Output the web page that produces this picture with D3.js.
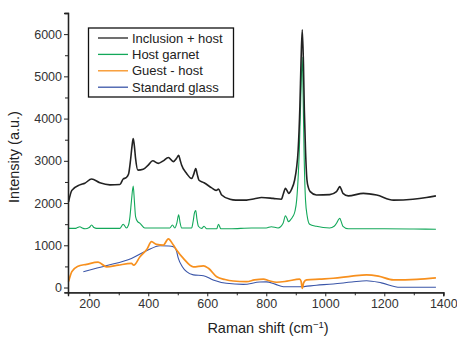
<!DOCTYPE html>
<html><head><meta charset="utf-8">
<script src="https://cdn.jsdelivr.net/npm/d3@7"></script>
<style>body{margin:0;background:#fff}svg{font-family:"Liberation Sans",Arial,sans-serif}</style>
</head><body><svg id="c" width="457" height="339"></svg>
<script>
const seriesNames = ["Inclusion + host","Host garnet","Guest - host","Standard glass"];
const seriesColors = ["#222222","#13a85a","#f7901e","#3a55a8"];
const xTicks = [200,400,600,800,1000,1200,1400];
const yTicks = [0,1000,2000,3000,4000,5000,6000];

const inclusionHost = [[130,2030],[141,2300],[168,2430],[185,2470],[208,2570],[236,2480],[270,2430],[304,2440],[315,2570],[325,2600],[333,2680],[340,3020],[345,3350],[349,3530],[353,3350],[357,3060],[365,2780],[383,2800],[400,2900],[415,3000],[434,2940],[451,3000],[468,3080],[485,2980],[496,3060],[503,3130],[508,3020],[513,2900],[530,2700],[547,2580],[554,2680],[561,2820],[566,2680],[572,2540],[589,2480],[615,2360],[630,2300],[638,2330],[649,2190],[677,2090],[697,2070],[733,2070],[760,2100],[784,2130],[823,2110],[851,2090],[858,2220],[865,2350],[870,2300],[876,2230],[886,2330],[896,2540],[903,2850],[908,3250],[914,4300],[918,5400],[922,6100],[926,5300],[929,4200],[933,3250],[938,2540],[943,2360],[949,2270],[970,2190],[1015,2200],[1038,2270],[1044,2340],[1049,2390],[1054,2330],[1060,2230],[1078,2170],[1129,2230],[1174,2190],[1231,2070],[1297,2090],[1343,2130],[1375,2170]];

const hostGarnet = [[130,1400],[152,1400],[160,1420],[168,1440],[176,1410],[186,1390],[200,1420],[208,1480],[216,1420],[225,1400],[304,1400],[315,1500],[326,1410],[333,1480],[338,1680],[343,2050],[349,2400],[353,2050],[357,1680],[364,1560],[372,1520],[388,1410],[473,1410],[482,1480],[490,1410],[497,1530],[503,1720],[508,1530],[513,1410],[547,1410],[552,1560],[557,1780],[561,1820],[565,1620],[570,1450],[581,1400],[589,1450],[598,1390],[632,1390],[638,1500],[646,1390],[677,1390],[750,1410],[800,1410],[817,1440],[840,1410],[857,1520],[865,1700],[870,1640],[875,1560],[882,1600],[890,1680],[897,1800],[903,2070],[908,2600],[912,3250],[917,4500],[922,5450],[925,4500],[928,3250],[933,2070],[939,1680],[947,1500],[970,1450],[1015,1410],[1030,1450],[1038,1520],[1044,1600],[1049,1640],[1054,1560],[1060,1450],[1078,1390],[1200,1390],[1300,1385],[1375,1380]];

const guestHost = [[130,140],[141,375],[160,500],[191,550],[230,600],[259,490],[298,530],[343,570],[351,530],[372,730],[395,900],[411,1085],[428,1020],[451,1005],[468,1150],[485,1005],[496,890],[519,690],[553,490],[587,515],[604,455],[632,255],[660,190],[688,155],[733,140],[760,180],[790,200],[810,160],[835,125],[870,150],[913,200],[918,150],[922,-20],[927,120],[937,180],[980,200],[1027,220],[1090,270],[1140,300],[1180,270],[1231,180],[1310,195],[1375,230]];

const standardGlass = [[180,375],[260,520],[343,690],[394,870],[440,990],[470,985],[485,965],[495,880],[502,690],[515,500],[530,375],[553,300],[587,280],[620,180],[665,100],[722,75],[778,130],[800,135],[830,80],[858,20],[913,20],[970,55],[1027,85],[1090,130],[1140,160],[1190,110],[1253,5],[1300,5],[1375,5]];

const allSeries = [inclusionHost, hostGarnet, guestHost, standardGlass];
const widths = [1.6,1.1,1.7,1.1];

const svg = d3.select("#c");
const m = {l:68, r:443.3, t:13, b:292.3};
const x = d3.scaleLinear().domain([128,1400]).range([m.l, m.r]);
const y = d3.scaleLinear().domain([-113,6500]).range([m.b, m.t]);

const line = d3.line().x(d=>x(d[0])).y(d=>y(d[1])).curve(d3.curveMonotoneX);
[3,2,1,0].forEach(i=>{
  svg.append("path").datum(allSeries[i]).attr("d",line)
    .attr("fill","none").attr("stroke",seriesColors[i]).attr("stroke-width",widths[i]).attr("stroke-linejoin","round");
});

svg.append("g").attr("transform",`translate(0,${m.b})`)
  .call(d3.axisBottom(x).tickValues(xTicks).tickSize(4).tickPadding(3).tickFormat(d3.format("d")));
svg.append("g").attr("transform",`translate(0,${m.b})`)
  .call(d3.axisBottom(x).tickValues(d3.range(300,1400,200)).tickSize(3).tickFormat(""));
svg.append("g").attr("transform",`translate(${m.l},0)`)
  .call(d3.axisLeft(y).tickValues(yTicks).tickSize(4).tickPadding(2).tickFormat(d3.format("d")));
svg.append("g").attr("transform",`translate(${m.l},0)`)
  .call(d3.axisLeft(y).tickValues(d3.range(500,6500,1000)).tickSize(3).tickFormat(""));
svg.selectAll(".domain").attr("stroke","#222").attr("stroke-width",1.3);
svg.selectAll(".tick line").attr("stroke","#222").attr("stroke-width",1);
svg.selectAll(".tick text").attr("font-size",12.5).attr("fill","#333").attr("font-family","Liberation Sans, Arial, sans-serif");

svg.append("text").attr("transform","translate(19,157) rotate(-90)").attr("text-anchor","middle")
  .attr("font-size",14.5).attr("fill","#222").text("Intensity (a.u.)");
const xl = svg.append("text").attr("x",268).attr("y",333).attr("text-anchor","middle").attr("font-size",14.5).attr("fill","#222");
xl.append("tspan").text("Raman shift (cm");
xl.append("tspan").attr("dy",-5).attr("font-size",9.5).text("\u22121");
xl.append("tspan").attr("dy",5).text(")");

svg.append("rect").attr("x",88.5).attr("y",28).attr("width",145).attr("height",69)
  .attr("fill","#fff").attr("stroke","#111").attr("stroke-width",1.3);
seriesNames.forEach((n,i)=>{
  const yy = 38 + i*16.4;
  svg.append("line").attr("x1",98).attr("x2",128).attr("y1",yy).attr("y2",yy)
    .attr("stroke",seriesColors[i]).attr("stroke-width",1.3);
  svg.append("text").attr("x",132).attr("y",yy+4.5).attr("font-size",13).attr("fill","#222").text(n);
});
</script></body></html>
